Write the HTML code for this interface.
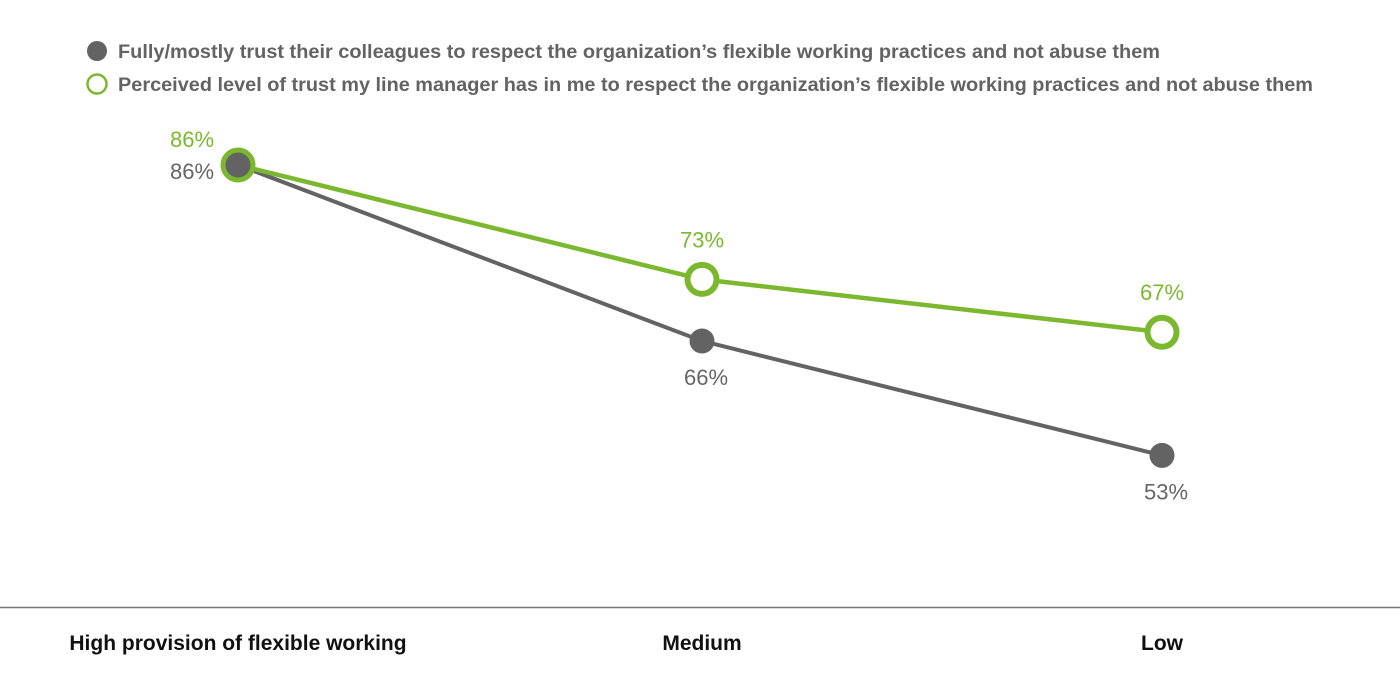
<!DOCTYPE html>
<html><head><meta charset="utf-8"><style>
html,body{margin:0;padding:0;background:#fff;width:1400px;height:700px;overflow:hidden}
svg{display:block;font-family:"Liberation Sans",sans-serif}
</style></head><body>
<svg id="chart" width="1400" height="700" viewBox="0 0 1400 700">
 <g>
  <circle cx="97" cy="51" r="10" fill="#636363"/>
  <text x="118" y="58" font-size="19" font-weight="bold" fill="#636363" textLength="1042" lengthAdjust="spacingAndGlyphs">Fully/mostly trust their colleagues to respect the organization’s flexible working practices and not abuse them</text>
  <circle cx="97" cy="84" r="9.5" fill="#fff" stroke="#7cb82f" stroke-width="2.5"/>
  <text x="118" y="91" font-size="19" font-weight="bold" fill="#636363" textLength="1195" lengthAdjust="spacingAndGlyphs">Perceived level of trust my line manager has in me to respect the organization’s flexible working practices and not abuse them</text>
 </g>
 <line x1="0" y1="607.5" x2="1400" y2="607.5" stroke="#777" stroke-width="1.5"/>
 <g id="plot"></g>
</svg>
<script>
const categories = ["High provision of flexible working", "Medium", "Low"];
const colleaguesValues = [86, 66, 53];
const managerValues = [86, 73, 67];
const colleaguesLabels = ["86%", "66%", "53%"];
const managerLabels = ["86%", "73%", "67%"];

const NS = "http://www.w3.org/2000/svg";
const xPos = i => [238, 702, 1162][i];
const yScale = v => 165 + (86 - v) * 8.8;
const plot = document.getElementById('plot');
function mk(tag, attrs){const e=document.createElementNS(NS,tag);for(const k in attrs)e.setAttribute(k,attrs[k]);plot.appendChild(e);return e;}

// category labels
categories.forEach((c,i)=>{
  const t=mk('text',{x:xPos(i),y:650,'text-anchor':'middle','font-size':21,'font-weight':'bold',fill:'#111'});
  
  
  t.textContent=c;
});
// lines
const gPts=colleaguesValues.map((v,i)=>xPos(i)+','+yScale(v)).join(' ');
const mPts=managerValues.map((v,i)=>xPos(i)+','+yScale(v)).join(' ');
const gl=mk('polyline',{points:gPts,fill:'none',stroke:'#636363','stroke-width':4});


const ml=mk('polyline',{points:mPts,fill:'none',stroke:'#7cb82f','stroke-width':4.5});


// manager markers
managerValues.forEach((v,i)=>{
  const c=mk('circle',{cx:xPos(i),cy:yScale(v),r:14.5,fill:'#fff',stroke:'#7cb82f','stroke-width':6});
  
  
  const t=mk('text',{x:xPos(i)-(i==0?46:0),y:yScale(v)-(i==0?18:32),'text-anchor':'middle','font-size':22,fill:'#7cb82f'});
  
  
  t.textContent=managerLabels[i];
});
// colleagues markers
colleaguesValues.forEach((v,i)=>{
  const c=mk('circle',{cx:xPos(i),cy:yScale(v),r:12.5,fill:'#636363'});
  
  
  const t=mk('text',{x:xPos(i)-(i==0?46:-4),y:yScale(v)+(i==0?14:44),'text-anchor':'middle','font-size':22,fill:'#666'});
  
  
  t.textContent=colleaguesLabels[i];
});
</script>
</body></html>
